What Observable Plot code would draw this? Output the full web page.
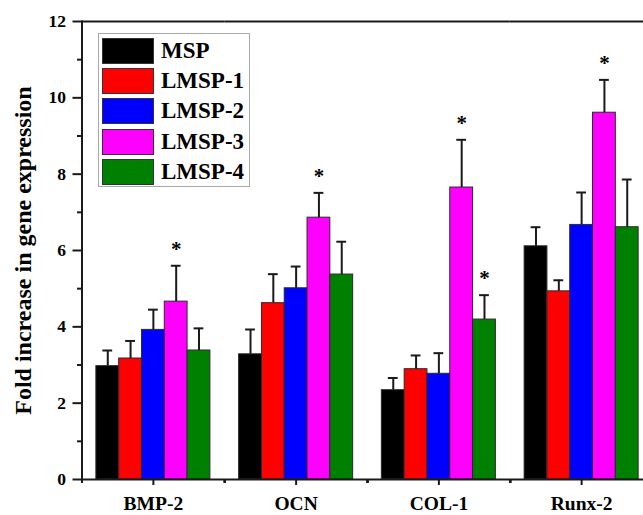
<!DOCTYPE html>
<html>
<head>
<meta charset="utf-8">
<script src="https://cdn.jsdelivr.net/npm/d3@7"></script>
<script src="https://cdn.jsdelivr.net/npm/@observablehq/plot@0.6"></script>
<style>
  html, body { margin: 0; padding: 0; background: white; }
  #wrap { position: relative; width: 643px; height: 515px; overflow: hidden; font-family: "Liberation Serif", "Times New Roman", serif; }
  #legend { position: absolute; left: 98px; top: 33px; width: 152px; height: 154px; box-sizing: border-box; border: 1.5px solid #a8a8a8; background: white; }
  .sw { position: absolute; left: 3px; width: 52px; height: 26px; box-sizing: border-box; border: 1px solid #333; }
  .lb { position: absolute; left: 62px; font-weight: bold; font-size: 23px; line-height: 26px; color: #000; white-space: nowrap; }
  #wrap svg [aria-label="fx-axis tick label"], #wrap svg [aria-label="fx-axis tick label"] text { font-size: 19.5px !important; font-weight: bold !important; }
  #wrap svg [aria-label="y-axis label"], #wrap svg [aria-label="y-axis label"] text { font-size: 24px !important; font-weight: bold !important; }
</style>
</head>
<body>
<div id="wrap"></div>
<script>
// ---- data ----
const categories = ["BMP-2", "OCN", "COL-1", "Runx-2"];
const series = ["MSP", "LMSP-1", "LMSP-2", "LMSP-3", "LMSP-4"];
const colors = ["#000000", "#ff0000", "#0000ff", "#ff00ff", "#008000"];

const mspMean   = [2.97, 3.28, 2.34, 6.11];
const lmsp1Mean = [3.17, 4.62, 2.89, 4.93];
const lmsp2Mean = [3.92, 5.01, 2.77, 6.67];
const lmsp3Mean = [4.66, 6.86, 7.65, 9.61];
const lmsp4Mean = [3.38, 5.37, 4.19, 6.61];

const mspSd   = [0.41, 0.65, 0.32, 0.50];
const lmsp1Sd = [0.46, 0.76, 0.36, 0.29];
const lmsp2Sd = [0.53, 0.57, 0.54, 0.85];
const lmsp3Sd = [0.94, 0.65, 1.25, 0.86];
const lmsp4Sd = [0.58, 0.86, 0.64, 1.25];

// significant (*) marks: [category, series]
const significant = [["BMP-2", "LMSP-3"], ["OCN", "LMSP-3"], ["COL-1", "LMSP-3"], ["COL-1", "LMSP-4"], ["Runx-2", "LMSP-3"]];

const yMajorTicks = [0, 2, 4, 6, 8, 10, 12];
const yMinorTicks = [1, 3, 5, 7, 9, 11];
const yLabel = "Fold increase in gene expression";

// ---- table ----
const means = [mspMean, lmsp1Mean, lmsp2Mean, lmsp3Mean, lmsp4Mean];
const sds = [mspSd, lmsp1Sd, lmsp2Sd, lmsp3Sd, lmsp4Sd];
const rows = [];
series.forEach((s, i) => categories.forEach((c, j) => {
  rows.push({category: c, series: s, mean: means[i][j], err: means[i][j] + sds[i][j]});
}));
const sigRows = rows.filter(r => significant.some(([c, s]) => c === r.category && s === r.series));

const fxRange = [81.5, 652.5];
const step = (fxRange[1] - fxRange[0]) / categories.length;
const ink = "#1a1a1a";

const chart = Plot.plot({
  width: 643,
  height: 515,
  marginLeft: 81,
  marginRight: 0,
  marginTop: 21,
  marginBottom: 36,
  style: {fontFamily: "'Liberation Serif', 'Times New Roman', serif", overflow: "hidden", background: "white", maxWidth: "none"},
  fx: {domain: categories, range: fxRange, padding: 0, round: false},
  x: {domain: series, paddingInner: 0, paddingOuter: 0.63, round: false, axis: null},
  y: {domain: [0, 12]},
  color: {domain: series, range: colors},
  marks: [
    Plot.barY(rows, {fx: "category", x: "series", y: "mean", fill: "series", stroke: "#2a2a2a", strokeWidth: 1}),
    Plot.ruleX(rows, {fx: "category", x: "series", y1: "mean", y2: "err", stroke: ink, strokeWidth: 2}),
    Plot.tickY(rows, {fx: "category", x: "series", y: "err", insetLeft: 6.5, insetRight: 6.5, stroke: ink, strokeWidth: 2}),
    Plot.text(sigRows, {fx: "category", x: "series", y: "err", text: () => "*", dy: -17, fontSize: 21, fontWeight: "bold", fill: "#000"}),
    Plot.ruleY([0, 12], {stroke: ink, strokeWidth: 2}),
    Plot.frame({anchor: "left", facet: "super", stroke: ink, strokeWidth: 2}),
    Plot.axisY(yMajorTicks, {tickSize: 9, fill: "none", stroke: ink, strokeWidth: 2, label: null}),
    Plot.axisY(yMinorTicks, {tickSize: 4.5, fill: "none", stroke: ink, strokeWidth: 2, label: null}),
    Plot.text(yMajorTicks, {fx: () => categories[0], y: d => d, text: d => String(d), frameAnchor: "left", textAnchor: "end", dx: -16, fontSize: 17.5, fontWeight: "bold", fill: "#000"}),
    Plot.axisY({ticks: [], tickSize: 0, label: yLabel, labelAnchor: "center", labelOffset: 68, fontSize: 24, fontWeight: "bold", fill: "#000", labelArrow: "none"}),
    Plot.axisFx({anchor: "bottom", tickSize: 6, tickPadding: 11, fontSize: 19.5, fontWeight: "bold", stroke: ink, strokeWidth: 2, label: null, fill: "#000"}),
    Plot.axisFx(categories, {anchor: "bottom", tickSize: 4, fill: "none", stroke: ink, strokeWidth: 2, label: null, dx: -step / 2})
  ]
});

const wrap = document.getElementById("wrap");
wrap.appendChild(chart);

// legend
const legend = document.createElement("div");
legend.id = "legend";
series.forEach((s, i) => {
  const sw = document.createElement("div");
  sw.className = "sw";
  sw.style.top = (4 + i * 30.2) + "px";
  sw.style.background = colors[i];
  const lb = document.createElement("div");
  lb.className = "lb";
  lb.style.top = (4 + i * 30.2) + "px";
  lb.textContent = s;
  legend.appendChild(sw);
  legend.appendChild(lb);
});
wrap.appendChild(legend);
</script>
</body>
</html>
